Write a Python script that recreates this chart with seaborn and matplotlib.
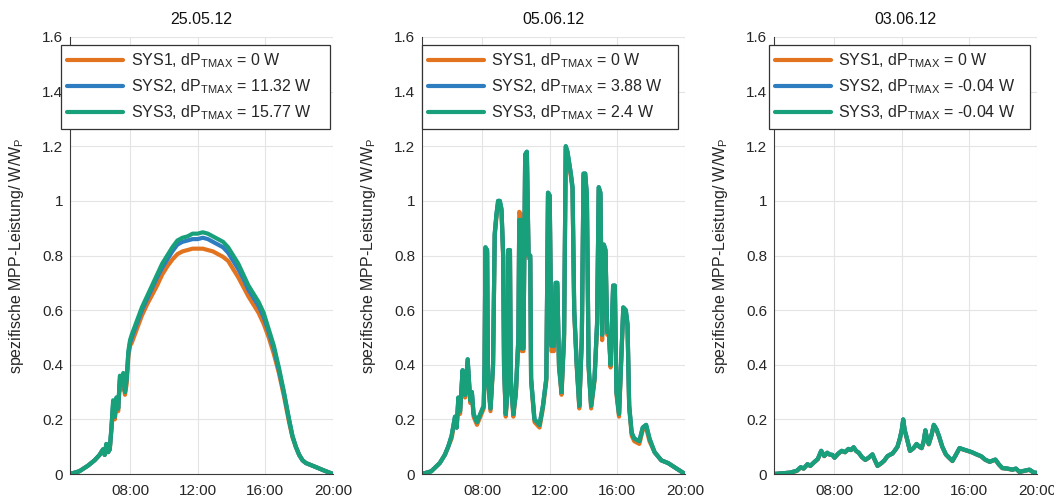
import matplotlib
matplotlib.use("Agg")
import matplotlib.pyplot as plt
import pandas as pd
import seaborn as sns

# ---- chart data -----------------------------------------------------------
SYSTEMS = ["SYS1", "SYS2", "SYS3"]
COLORS = ["#E2731F", "#2E7DC1", "#18A07A"]

DAY_TITLES = ["25.05.12", "05.06.12", "03.06.12"]
DP_TMAX = [["0", "11.32", "15.77"],
           ["0", "3.88", "2.4"],
           ["0", "-0.04", "-0.04"]]

HOUR_TICKS = [8, 12, 16, 20]
HOUR_LABELS = ["08:00", "12:00", "16:00", "20:00"]
Y_TICKS = [0, 0.2, 0.4, 0.6, 0.8, 1.0, 1.2, 1.4, 1.6]
Y_LABELS = ["0", "0.2", "0.4", "0.6", "0.8", "1", "1.2", "1.4", "1.6"]

# 25.05.12 - clear day
hours_d1 = [4.45, 5.0, 5.5, 5.9, 6.2, 6.4, 6.5, 6.6, 6.7, 6.8,
            6.9, 7.0, 7.1, 7.2, 7.3, 7.4, 7.5, 7.6, 7.7, 7.8,
            7.9, 8.0, 8.1, 8.4, 8.7, 9.0, 9.3, 9.6, 9.9, 10.2,
            10.5, 10.8, 11.1, 11.4, 11.7, 12.0, 12.3, 12.6, 12.9, 13.2,
            13.5, 13.8, 14.1, 14.4, 14.7, 15.0, 15.3, 15.6, 15.9, 16.2,
            16.5, 16.8, 17.1, 17.4, 17.6, 17.8, 18.0, 18.2, 18.4, 19.0,
            19.5, 20.0]
sys1_d1 = [0.0, 0.01, 0.03, 0.05, 0.07, 0.09, 0.07, 0.10, 0.08, 0.09,
           0.16, 0.25, 0.20, 0.26, 0.23, 0.34, 0.31, 0.35, 0.29, 0.33,
           0.43, 0.47, 0.48, 0.53, 0.58, 0.62, 0.655, 0.69, 0.73, 0.76,
           0.785, 0.805, 0.815, 0.82, 0.825, 0.825, 0.825, 0.82, 0.815, 0.805,
           0.795, 0.78, 0.75, 0.72, 0.685, 0.65, 0.62, 0.59, 0.55, 0.50,
           0.44, 0.37, 0.285, 0.19, 0.135, 0.10, 0.07, 0.05, 0.04, 0.025,
           0.012, 0.0]
sys2_d1 = [0.0, 0.01, 0.03, 0.05, 0.07, 0.09, 0.07, 0.11, 0.08, 0.09,
           0.17, 0.26, 0.21, 0.28, 0.24, 0.35, 0.33, 0.36, 0.30, 0.35,
           0.44, 0.48, 0.50, 0.55, 0.60, 0.64, 0.68, 0.72, 0.755, 0.785,
           0.815, 0.84, 0.85, 0.855, 0.86, 0.86, 0.865, 0.86, 0.85, 0.84,
           0.83, 0.81, 0.78, 0.75, 0.715, 0.675, 0.645, 0.615, 0.575, 0.52,
           0.46, 0.38, 0.295, 0.20, 0.14, 0.10, 0.07, 0.05, 0.04, 0.025,
           0.012, 0.0]
sys3_d1 = [0.0, 0.01, 0.03, 0.05, 0.07, 0.09, 0.07, 0.11, 0.08, 0.09,
           0.17, 0.27, 0.21, 0.28, 0.24, 0.36, 0.33, 0.37, 0.30, 0.35,
           0.45, 0.49, 0.51, 0.56, 0.61, 0.65, 0.69, 0.73, 0.77, 0.80,
           0.83, 0.855, 0.865, 0.87, 0.88, 0.88, 0.885, 0.88, 0.87, 0.86,
           0.85, 0.83, 0.80, 0.77, 0.73, 0.69, 0.66, 0.63, 0.59, 0.53,
           0.47, 0.39, 0.30, 0.20, 0.14, 0.10, 0.07, 0.05, 0.04, 0.025,
           0.012, 0.0]

# 05.06.12 - broken clouds
hours_d2 = [4.45, 5.0, 5.5, 5.8, 6.0, 6.2, 6.4, 6.5, 6.6, 6.7,
            6.85, 7.0, 7.15, 7.3, 7.4, 7.5, 7.7, 7.9, 8.1, 8.15,
            8.2, 8.3, 8.35, 8.5, 8.65, 8.75, 8.85, 8.95, 9.05, 9.15,
            9.25, 9.3, 9.4, 9.5, 9.55, 9.65, 9.7, 9.85, 10.0, 10.15,
            10.2, 10.3, 10.35, 10.45, 10.55, 10.65, 10.75, 10.85, 10.9, 11.1,
            11.4, 11.6, 11.8, 11.9, 12.0, 12.1, 12.25, 12.35, 12.45, 12.55,
            12.7, 12.85, 12.95, 13.05, 13.15, 13.25, 13.35, 13.45, 13.6, 13.75,
            13.9, 14.0, 14.1, 14.2, 14.3, 14.45, 14.65, 14.8, 14.9, 15.0,
            15.1, 15.2, 15.3, 15.4, 15.5, 15.6, 15.75, 15.85, 15.95, 16.1,
            16.35, 16.5, 16.6, 16.7, 16.85, 17.0, 17.3, 17.5, 17.7, 17.9,
            18.2, 18.6, 19.0, 19.5, 20.0]
sys1_d2 = [0.00, 0.01, 0.04, 0.07, 0.10, 0.13, 0.20, 0.17, 0.27, 0.22,
           0.37, 0.28, 0.41, 0.26, 0.29, 0.21, 0.18, 0.21, 0.24, 0.39,
           0.82, 0.81, 0.34, 0.23, 0.39, 0.87, 0.94, 0.99, 0.99, 0.96,
           0.79, 0.39, 0.21, 0.29, 0.81, 0.81, 0.34, 0.21, 0.29, 0.50,
           0.96, 0.95, 0.45, 0.45, 1.16, 1.17, 0.79, 0.79, 0.34, 0.19,
           0.17, 0.24, 0.34, 1.02, 1.01, 0.45, 0.45, 0.69, 0.69, 0.39,
           0.29, 0.49, 1.19, 1.17, 1.13, 1.09, 1.04, 0.59, 0.39, 0.24,
           0.49, 1.09, 1.09, 1.01, 0.39, 0.24, 0.34, 0.54, 1.04, 1.02,
           0.49, 0.83, 0.81, 0.51, 0.51, 0.39, 0.68, 0.68, 0.29, 0.21,
           0.60, 0.59, 0.54, 0.24, 0.14, 0.12, 0.11, 0.16, 0.17, 0.12,
           0.08, 0.05, 0.04, 0.02, 0.00]
sys2_d2 = [0.00, 0.01, 0.04, 0.07, 0.10, 0.14, 0.21, 0.17, 0.28, 0.23,
           0.38, 0.29, 0.42, 0.27, 0.30, 0.22, 0.19, 0.22, 0.25, 0.40,
           0.83, 0.82, 0.35, 0.24, 0.40, 0.88, 0.95, 1.00, 1.00, 0.97,
           0.80, 0.40, 0.22, 0.30, 0.82, 0.82, 0.35, 0.22, 0.30, 0.50,
           0.93, 0.93, 0.46, 0.46, 1.17, 1.18, 0.80, 0.80, 0.35, 0.20,
           0.18, 0.25, 0.35, 1.03, 1.02, 0.47, 0.47, 0.70, 0.70, 0.40,
           0.30, 0.51, 1.20, 1.18, 1.14, 1.10, 1.05, 0.60, 0.40, 0.25,
           0.50, 1.10, 1.10, 1.02, 0.40, 0.25, 0.35, 0.55, 1.05, 1.03,
           0.51, 0.84, 0.82, 0.52, 0.52, 0.40, 0.69, 0.69, 0.30, 0.22,
           0.61, 0.60, 0.55, 0.25, 0.15, 0.13, 0.12, 0.17, 0.18, 0.13,
           0.08, 0.05, 0.04, 0.02, 0.00]
sys3_d2 = [0.00, 0.01, 0.04, 0.07, 0.10, 0.14, 0.21, 0.17, 0.28, 0.23,
           0.38, 0.29, 0.42, 0.27, 0.30, 0.22, 0.19, 0.22, 0.25, 0.40,
           0.83, 0.82, 0.35, 0.24, 0.40, 0.88, 0.95, 1.00, 1.00, 0.97,
           0.80, 0.40, 0.22, 0.30, 0.82, 0.82, 0.35, 0.22, 0.30, 0.50,
           0.93, 0.93, 0.46, 0.46, 1.17, 1.18, 0.80, 0.80, 0.35, 0.20,
           0.18, 0.25, 0.35, 1.03, 1.02, 0.47, 0.47, 0.70, 0.70, 0.40,
           0.30, 0.51, 1.20, 1.18, 1.14, 1.10, 1.05, 0.60, 0.40, 0.25,
           0.50, 1.10, 1.10, 1.02, 0.40, 0.25, 0.35, 0.55, 1.05, 1.03,
           0.51, 0.84, 0.82, 0.52, 0.52, 0.40, 0.69, 0.69, 0.30, 0.22,
           0.61, 0.60, 0.55, 0.25, 0.15, 0.13, 0.12, 0.17, 0.18, 0.13,
           0.08, 0.05, 0.04, 0.02, 0.00]

# 03.06.12 - overcast
hours_d3 = [4.45, 5.4, 5.8, 6.03, 6.2, 6.43, 6.6, 6.8, 7.04, 7.24,
            7.42, 7.6, 7.72, 7.9, 8.03, 8.25, 8.45, 8.65, 8.85, 9.0,
            9.16, 9.3, 9.46, 9.65, 9.85, 10.05, 10.27, 10.42, 10.57, 10.8,
            10.98, 11.15, 11.28, 11.45, 11.58, 11.75, 11.89, 12.0, 12.09, 12.18,
            12.27, 12.49, 12.7, 12.88, 13.05, 13.18, 13.3, 13.4, 13.5, 13.6,
            13.75, 13.9, 14.05, 14.2, 14.4, 14.61, 14.8, 15.0, 15.2, 15.42,
            15.65, 15.9, 16.15, 16.43, 16.7, 16.93, 17.2, 17.54, 17.75, 17.95,
            18.25, 18.55, 18.75, 18.96, 19.25, 19.55, 19.8, 20.0]
sys1_d3 = [0.0, 0.005, 0.011, 0.024, 0.019, 0.035, 0.029, 0.041, 0.054, 0.083,
           0.065, 0.077, 0.071, 0.069, 0.059, 0.074, 0.084, 0.079, 0.091, 0.087,
           0.097, 0.084, 0.077, 0.061, 0.051, 0.059, 0.071, 0.049, 0.029, 0.039,
           0.049, 0.064, 0.069, 0.074, 0.084, 0.099, 0.128, 0.158, 0.197, 0.158,
           0.138, 0.084, 0.094, 0.108, 0.099, 0.094, 0.118, 0.158, 0.128, 0.108,
           0.138, 0.178, 0.163, 0.138, 0.099, 0.071, 0.059, 0.047, 0.069, 0.094,
           0.089, 0.084, 0.079, 0.071, 0.064, 0.052, 0.044, 0.052, 0.034, 0.021,
           0.019, 0.015, 0.019, 0.007, 0.011, 0.015, 0.005, 0.003]
sys2_d3 = [0.0, 0.005, 0.012, 0.025, 0.02, 0.036, 0.03, 0.042, 0.055, 0.085,
           0.066, 0.078, 0.072, 0.07, 0.06, 0.075, 0.085, 0.08, 0.092, 0.088,
           0.098, 0.085, 0.078, 0.062, 0.052, 0.06, 0.072, 0.05, 0.03, 0.04,
           0.05, 0.065, 0.07, 0.075, 0.085, 0.10, 0.13, 0.16, 0.20, 0.16,
           0.14, 0.085, 0.095, 0.11, 0.10, 0.095, 0.12, 0.16, 0.13, 0.11,
           0.14, 0.18, 0.165, 0.14, 0.10, 0.072, 0.06, 0.048, 0.07, 0.095,
           0.09, 0.085, 0.08, 0.072, 0.065, 0.053, 0.045, 0.053, 0.035, 0.022,
           0.02, 0.016, 0.02, 0.008, 0.012, 0.016, 0.006, 0.004]
sys3_d3 = [0.0, 0.005, 0.012, 0.025, 0.02, 0.036, 0.03, 0.042, 0.055, 0.085,
           0.066, 0.078, 0.072, 0.07, 0.06, 0.075, 0.085, 0.08, 0.092, 0.088,
           0.098, 0.085, 0.078, 0.062, 0.052, 0.06, 0.072, 0.05, 0.03, 0.04,
           0.05, 0.065, 0.07, 0.075, 0.085, 0.10, 0.13, 0.16, 0.20, 0.16,
           0.14, 0.085, 0.095, 0.11, 0.10, 0.095, 0.12, 0.16, 0.13, 0.11,
           0.14, 0.18, 0.165, 0.14, 0.10, 0.072, 0.06, 0.048, 0.07, 0.095,
           0.09, 0.085, 0.08, 0.072, 0.065, 0.053, 0.045, 0.053, 0.035, 0.022,
           0.02, 0.016, 0.02, 0.008, 0.012, 0.016, 0.006, 0.004]

DAYS = [
    (hours_d1, [sys1_d1, sys2_d1, sys3_d1]),
    (hours_d2, [sys1_d2, sys2_d2, sys3_d2]),
    (hours_d3, [sys1_d3, sys2_d3, sys3_d3]),
]


def day_frame(hours, series):
    parts = []
    for name, values in zip(SYSTEMS, series):
        parts.append(pd.DataFrame({"hour": hours, "power": values, "system": name}))
    return pd.concat(parts, ignore_index=True)


# ---- styling --------------------------------------------------------------
sns.set_style("white")
plt.rcParams["font.family"] = ["Liberation Sans", "DejaVu Sans"]
plt.rcParams["mathtext.fontset"] = "custom"
plt.rcParams["mathtext.rm"] = "Liberation Sans"
plt.rcParams["mathtext.it"] = "Liberation Sans:italic"
plt.rcParams["mathtext.bf"] = "Liberation Sans:bold"

TEXT = "#262626"
W, H = 1054, 500
fig = plt.figure(figsize=(W / 100, H / 100), dpi=100)

ax_left_px = [70, 422, 774]
ax_w_px, ax_top_px, ax_bot_px = 263, 37, 474
legend_span = [(-0.034, 1.023), (0.0, 0.973), (-0.019, 0.992)]

for i, (hours, series) in enumerate(DAYS):
    ax = fig.add_axes([ax_left_px[i] / W, 1 - ax_bot_px / H,
                       ax_w_px / W, (ax_bot_px - ax_top_px) / H])
    df = day_frame(hours, series)
    sns.lineplot(data=df, x="hour", y="power", hue="system", hue_order=SYSTEMS,
                 palette=COLORS, linewidth=3.0, estimator=None, sort=False,
                 legend=False, ax=ax)

    ax.set_xlim(4.45, 20.0)
    ax.set_ylim(0, 1.6)
    ax.set_xticks(HOUR_TICKS)
    ax.set_xticklabels(HOUR_LABELS)
    ax.set_yticks(Y_TICKS)
    ax.set_yticklabels(Y_LABELS)
    ax.set_xlabel("")
    ax.set_ylabel("spezifische MPP-Leistung/ W/W$_\\mathrm{P}$",
                  fontsize=11.5, color=TEXT)
    ax.yaxis.set_label_coords(-0.167, 0.5)
    ax.set_title(DAY_TITLES[i], fontsize=11.5, color="#111111", pad=9.5)

    ax.grid(True, color="#E4E4E4", linewidth=0.8)
    ax.set_axisbelow(True)
    for side in ("top", "right"):
        ax.spines[side].set_visible(False)
    for side in ("left", "bottom"):
        ax.spines[side].set_color("#3a3a3a")
        ax.spines[side].set_linewidth(0.8)
    ax.tick_params(axis="both", direction="in", length=3.5, width=0.8,
                   colors="#3a3a3a", labelcolor=TEXT, labelsize=11)
    ax.tick_params(axis="x", pad=7)
    ax.tick_params(axis="y", pad=5)

    labels = [f"{s}, dP$_\\mathrm{{TMAX}}$ = {v} W"
              for s, v in zip(SYSTEMS, DP_TMAX[i])]
    x0, w = legend_span[i]
    leg = ax.legend(ax.get_lines()[:3], labels, loc="upper left",
                    bbox_to_anchor=(x0, 0.0, w, 0.982), mode="expand",
                    frameon=True, fancybox=False, framealpha=1,
                    edgecolor="#333333", fontsize=11.5, handlelength=3.5,
                    handletextpad=0.45, borderpad=0.4, labelspacing=0.47,
                    borderaxespad=0)
    leg.get_frame().set_linewidth(0.9)
    for t in leg.get_texts():
        t.set_color(TEXT)

fig.savefig("out.png", dpi=100)
